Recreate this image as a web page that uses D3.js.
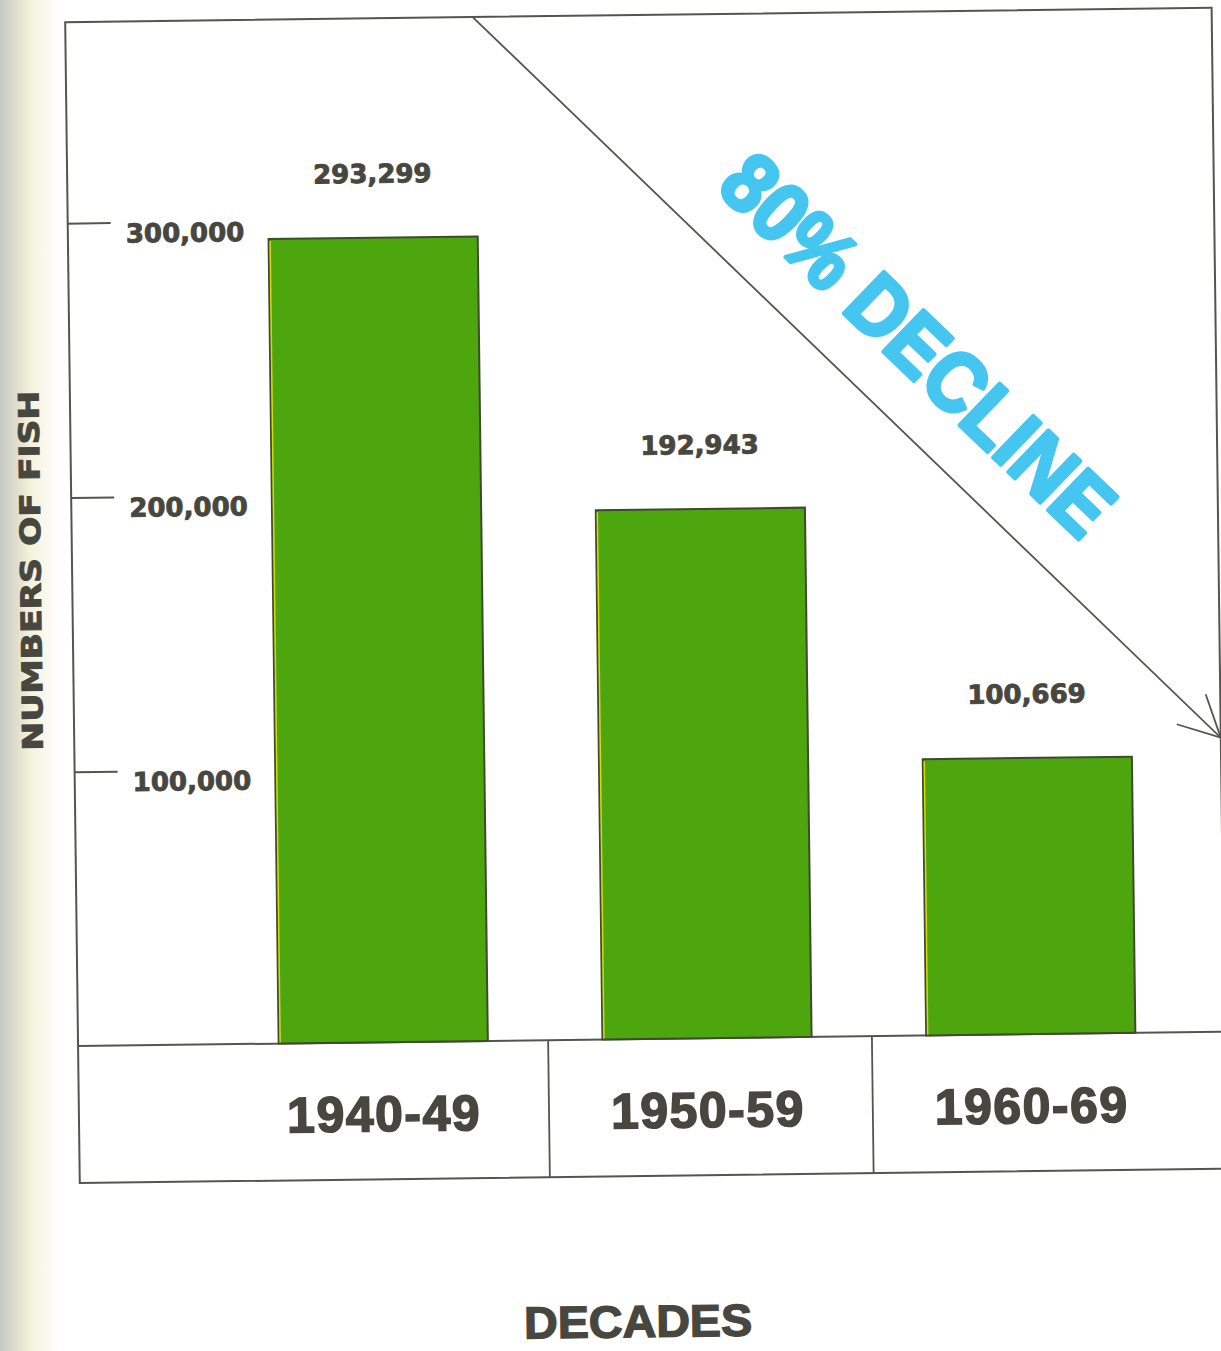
<!DOCTYPE html>
<html>
<head>
<meta charset="utf-8">
<script src="https://cdn.jsdelivr.net/npm/d3@7"></script>
<style>
  body { margin: 0; background: #fff; }
  svg { display: block; }
</style>
</head>
<body>
<svg id="chart" width="1221" height="1351"></svg>
<script>
// values
var decades = ["1940-49", "1950-59", "1960-69"];
var fishCounts = [293299, 192943, 100669];
var yTicks = [100000, 200000, 300000];
var yTitle = "NUMBERS OF FISH";
var xTitle = "DECADES";
var declineLabel = "80% DECLINE";

var width = 1221,
	height = 1351;

var frame = {left: 72.5, top: 15, right: 1219, base: 1039, bottom: 1176};

var ink = "#47473f",
	lineInk = "#55554f",
	barGreen = "#4ea60e",
	blue = "#45c6f1";

var svg = d3.select("#chart");

svg.append("rect")
	.attr("width", width)
	.attr("height", height)
	.attr("fill", "#ffffff");

// book gutter shading on the left edge of the scan
var grad = svg.append("defs").append("linearGradient")
	.attr("id", "gutter")
	.attr("x1", "0").attr("x2", "1").attr("y1", "0").attr("y2", "0");
grad.append("stop").attr("offset", "0%").attr("stop-color", "#c6c9c1");
grad.append("stop").attr("offset", "25%").attr("stop-color", "#dcdccd");
grad.append("stop").attr("offset", "50%").attr("stop-color", "#f5f2da");
grad.append("stop").attr("offset", "100%").attr("stop-color", "#ffffff");
svg.append("rect")
	.attr("x", 0).attr("y", 0)
	.attr("width", 60).attr("height", height)
	.attr("fill", "url(#gutter)");

// the page was scanned a little crooked
var g = svg.append("g")
	.attr("transform", "rotate(-0.72, 640, 600)");

var x = d3.scaleBand()
	.domain(decades)
	.range([176, 1227])
	.paddingInner(0.354)
	.paddingOuter(0.3);

var y = d3.scaleLinear()
	.domain([0, 300000])
	.range([frame.base, 216]);

// outer frame + table rows
g.append("rect")
	.attr("x", frame.left)
	.attr("y", frame.top)
	.attr("width", frame.right - frame.left)
	.attr("height", frame.bottom - frame.top)
	.attr("fill", "none")
	.attr("stroke", lineInk)
	.attr("stroke-width", 2);

g.append("line")
	.attr("x1", frame.left).attr("x2", frame.right)
	.attr("y1", frame.base).attr("y2", frame.base)
	.attr("stroke", lineInk)
	.attr("stroke-width", 2);

g.selectAll(".divider")
	.data(decades.slice(0, -1))
	.enter()
	.append("line")
	.attr("class", "divider")
	.attr("x1", function(d) { return x(d) + x.bandwidth() + (x.step() - x.bandwidth()) / 2 + 3; })
	.attr("x2", function(d) { return x(d) + x.bandwidth() + (x.step() - x.bandwidth()) / 2 + 3; })
	.attr("y1", frame.base)
	.attr("y2", frame.bottom)
	.attr("stroke", lineInk)
	.attr("stroke-width", 1.8);

// y axis: ticks point inward from the frame
var yAxis = d3.axisRight(y)
	.tickValues(yTicks)
	.tickSize(43)
	.tickPadding(15)
	.tickFormat(d3.format(","));

var axisG = g.append("g")
	.attr("transform", "translate(" + frame.left + ",0)")
	.call(yAxis);

axisG.select(".domain").remove();
axisG.selectAll(".tick line")
	.attr("stroke", lineInk)
	.attr("stroke-width", 2);
axisG.selectAll(".tick text")
	.attr("fill", ink)
	.attr("stroke", ink)
	.attr("stroke-width", 0.9)
	.attr("dy", "0.75em")
	.style("font-family", "'DejaVu Sans', sans-serif")
	.style("font-weight", "bold")
	.style("font-size", "26px");

// bars
g.selectAll(".bar")
	.data(fishCounts)
	.enter()
	.append("rect")
	.attr("class", "bar")
	.attr("x", function(d, i) { return x(decades[i]); })
	.attr("y", function(d) { return y(d); })
	.attr("width", x.bandwidth())
	.attr("height", function(d) { return y(0) - y(d); })
	.attr("fill", barGreen)
	.attr("stroke", "#3e4a30")
	.attr("stroke-width", 2);

// thin yellow misregistration on the left edge of each bar
g.selectAll(".edge")
	.data(fishCounts)
	.enter()
	.append("line")
	.attr("class", "edge")
	.attr("x1", function(d, i) { return x(decades[i]) + 1.5; })
	.attr("x2", function(d, i) { return x(decades[i]) + 1.5; })
	.attr("y1", function(d) { return y(d) + 2; })
	.attr("y2", y(0) - 1)
	.attr("stroke", "#d6d80a")
	.attr("stroke-width", 1.5);

g.selectAll(".value")
	.data(fishCounts)
	.enter()
	.append("text")
	.attr("class", "value")
	.attr("x", function(d, i) { return x(decades[i]) + x.bandwidth() / 2; })
	.attr("y", function(d) { return y(d) - 55; })
	.attr("text-anchor", "middle")
	.attr("fill", ink)
	.attr("stroke", ink)
	.attr("stroke-width", 0.9)
	.style("font-family", "'DejaVu Sans', sans-serif")
	.style("font-weight", "bold")
	.style("font-size", "26px")
	.text(d3.format(","));

// decade labels in the table row
g.selectAll(".decade")
	.data(decades)
	.enter()
	.append("text")
	.attr("class", "decade")
	.attr("x", function(d) { return x(d) + x.bandwidth() / 2; })
	.attr("y", 1128)
	.attr("text-anchor", "middle")
	.attr("fill", ink)
	.attr("stroke", ink)
	.attr("stroke-width", 1.6)
	.style("font-family", "'Liberation Sans', Arial, sans-serif")
	.style("font-weight", "bold")
	.style("font-size", "50px")
	.style("letter-spacing", "1.5px")
	.text(function(d) { return d; });

// axis titles
g.append("text")
	.attr("transform", "translate(41, 563) rotate(-90)")
	.attr("text-anchor", "middle")
	.attr("textLength", 360)
	.attr("lengthAdjust", "spacingAndGlyphs")
	.attr("fill", ink)
	.attr("stroke", ink)
	.attr("stroke-width", 1)
	.style("font-family", "'DejaVu Sans', sans-serif")
	.style("font-weight", "bold")
	.style("font-size", "28px")
	.text(yTitle);

g.append("text")
	.attr("x", 629)
	.attr("y", 1337)
	.attr("text-anchor", "middle")
	.attr("textLength", 228)
	.attr("lengthAdjust", "spacingAndGlyphs")
	.attr("fill", ink)
	.attr("stroke", ink)
	.attr("stroke-width", 1.4)
	.style("font-family", "'Liberation Sans', Arial, sans-serif")
	.style("font-weight", "bold")
	.style("font-size", "45px")
	.text(xTitle);

// the decline arrow, from the top border to the right border
var p0 = [480, frame.top],
	p1 = [frame.right, 745];
var ang = Math.atan2(p1[1] - p0[1], p1[0] - p0[0]);

g.append("line")
	.attr("x1", p0[0]).attr("y1", p0[1])
	.attr("x2", p1[0]).attr("y2", p1[1])
	.attr("stroke", lineInk)
	.attr("stroke-width", 1.8);

var armLen = 46, spread = 0.47;
[ang + Math.PI - spread, ang + Math.PI + spread].forEach(function(a) {
	g.append("line")
		.attr("x1", p1[0]).attr("y1", p1[1])
		.attr("x2", p1[0] + armLen * Math.cos(a))
		.attr("y2", p1[1] + armLen * Math.sin(a))
		.attr("stroke", lineInk)
		.attr("stroke-width", 1.8);
});

// label runs parallel to the arrow, just above it
var along = 294, off = 44;
var tx = p0[0] + along * Math.cos(ang) + off * Math.sin(ang),
	ty = p0[1] + along * Math.sin(ang) - off * Math.cos(ang);

g.append("text")
	.attr("transform", "translate(" + tx + "," + ty + ") rotate(" + (ang * 180 / Math.PI) + ")")
	.attr("textLength", 508)
	.attr("lengthAdjust", "spacingAndGlyphs")
	.attr("fill", blue)
	.attr("stroke", blue)
	.attr("stroke-width", 4)
	.attr("stroke-linejoin", "round")
	.style("font-family", "'Liberation Sans', Arial, sans-serif")
	.style("font-weight", "bold")
	.style("font-size", "84px")
	.text(declineLabel);
</script>
</body>
</html>
